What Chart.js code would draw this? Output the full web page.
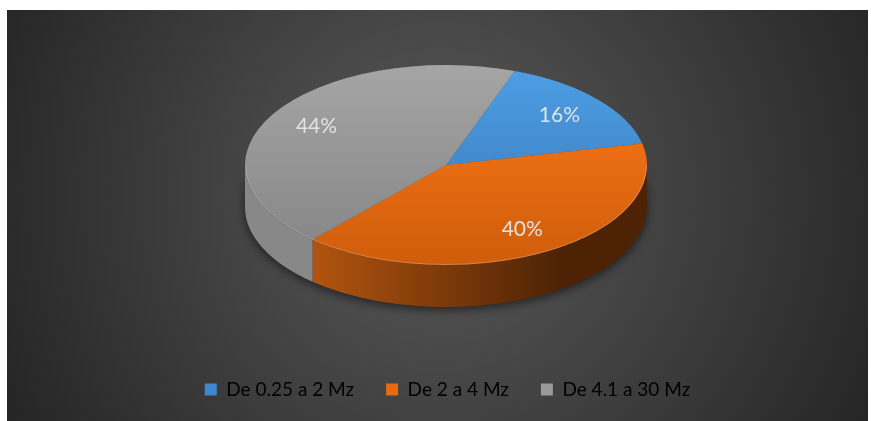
<!DOCTYPE html>
<html>
<head>
<meta charset="utf-8">
<script src="https://cdn.jsdelivr.net/npm/chart.js@4.4.1/dist/chart.umd.min.js"></script>
<style>
  html, body { margin: 0; background: #fff; }
</style>
</head>
<body>
<canvas id="pieChart" width="871" height="421"></canvas>
<script>
// data
const categories = ['De 0.25 a 2 Mz', 'De 2 a 4 Mz', 'De 4.1 a 30 Mz'];
const shares = [16, 40, 44];

// styles
const topColors = [['#4d9fe6', '#3874b3'], ['#ff7a18', '#cf5d0b'], ['#a5a5a5', '#848484']];
const sideColors = [['#3a70a8', '#1f3f60'], ['#b0530f', '#4e2305'], ['#888888', '#666666']];
const legendColors = ['#3f88d0', '#e8690e', '#9a9a9a'];

// where the tilted pie sits
const pie = { cx: 446, cy: 165, rx: 201, ry: 100, depth: 42 };

const ctx = document.getElementById('pieChart').getContext('2d');

function topGradient(context) {
  const chart = context.chart;
  const area = chart.chartArea;
  if (!area) return topColors[context.dataIndex][0];
  const cy = (area.top + area.bottom) / 2;
  const r = Math.min(area.right - area.left, area.bottom - area.top) / 2;
  const g = chart.ctx.createLinearGradient(0, cy - r, 0, cy + r);
  g.addColorStop(0, topColors[context.dataIndex][0]);
  g.addColorStop(1, topColors[context.dataIndex][1]);
  return g;
}

const tiltPlugin = {
  id: 'tilt',
  beforeDraw(chart) {
    const c = chart.ctx;
    c.save();
    const bg = c.createRadialGradient(440, 195, 0, 440, 195, 480);
    bg.addColorStop(0, '#5a5a5a');
    bg.addColorStop(1, '#262626');
    c.fillStyle = bg;
    c.fillRect(7, 10, 861, 411);
    c.restore();
  },
  beforeDatasetsDraw(chart) {
    const c = chart.ctx;
    const arcs = chart.getDatasetMeta(0).data;
    const { cx, cy, rx, ry, depth } = pie;

    // soft shadow under the pie
    c.save();
    c.shadowColor = 'rgba(0,0,0,0.55)';
    c.shadowBlur = 10;
    c.shadowOffsetY = 3;
    c.fillStyle = '#333';
    c.beginPath();
    c.ellipse(cx, cy, rx, ry, 0, 0, Math.PI);
    c.ellipse(cx, cy + depth, rx, ry, 0, Math.PI, 0, true);
    c.closePath();
    c.fill();
    c.restore();

    // outer wall, front half only
    arcs.forEach((a, i) => {
      const g = c.createLinearGradient(cx - rx, 0, cx + rx, 0);
      g.addColorStop(0, sideColors[i][0]);
      g.addColorStop(0.18, sideColors[i][0]);
      g.addColorStop(0.78, sideColors[i][1]);
      g.addColorStop(1, sideColors[i][1]);
      [-2 * Math.PI, 0, 2 * Math.PI].forEach(off => {
        const lo = Math.max(a.startAngle, off);
        const hi = Math.min(a.endAngle, off + Math.PI);
        if (hi <= lo) return;
        c.beginPath();
        c.ellipse(cx, cy, rx, ry, 0, lo, hi);
        c.ellipse(cx, cy + depth, rx, ry, 0, hi, lo, true);
        c.closePath();
        c.fillStyle = g;
        c.fill();
      });
    });

    // squash the library's circle into the ellipse
    const a0 = arcs[0];
    c.save();
    c.translate(cx, cy);
    c.scale(rx / a0.outerRadius, ry / a0.outerRadius);
    c.translate(-a0.x, -a0.y);
  },
  afterDatasetsDraw(chart) {
    const c = chart.ctx;
    c.restore();
    const arcs = chart.getDatasetMeta(0).data;
    const { cx, cy, rx, ry } = pie;

    // light rim on the front edge
    c.save();
    c.strokeStyle = 'rgba(255,255,255,0.22)';
    c.lineWidth = 1;
    c.beginPath();
    c.ellipse(cx, cy, rx - 0.5, ry - 0.5, 0, 0, Math.PI);
    c.stroke();
    c.restore();

    // percentage labels
    const total = shares.reduce((s, v) => s + v, 0);
    c.save();
    c.fillStyle = '#e2e2e2';
    c.font = '21px Lato';
    c.textAlign = 'center';
    c.textBaseline = 'middle';
    arcs.forEach((a, i) => {
      const mid = (a.startAngle + a.endAngle) / 2;
      const x = cx + rx * 0.75 * Math.cos(mid);
      const y = cy + ry * 0.75 * Math.sin(mid);
      c.fillText(Math.round(shares[i] / total * 100) + '%', x, y);
    });
    c.restore();
  }
};

new Chart(ctx, {
  type: 'pie',
  data: {
    labels: categories,
    datasets: [{
      data: shares,
      backgroundColor: topGradient,
      borderWidth: 0
    }]
  },
  options: {
    responsive: false,
    animation: false,
    rotation: 20,
    layout: { padding: { left: 24, bottom: 12 } },
    plugins: {
      tooltip: { enabled: false },
      legend: {
        position: 'bottom',
        labels: {
          color: '#d9d9d9',
          font: { family: 'Lato', size: 19 },
          boxWidth: 12,
          boxHeight: 12,
          padding: 32,
          generateLabels: () => categories.map((name, i) => ({
            text: name,
            fillStyle: legendColors[i],
            strokeStyle: legendColors[i],
            lineWidth: 0,
            index: i
          }))
        }
      }
    }
  },
  plugins: [tiltPlugin]
});
</script>
</body>
</html>
